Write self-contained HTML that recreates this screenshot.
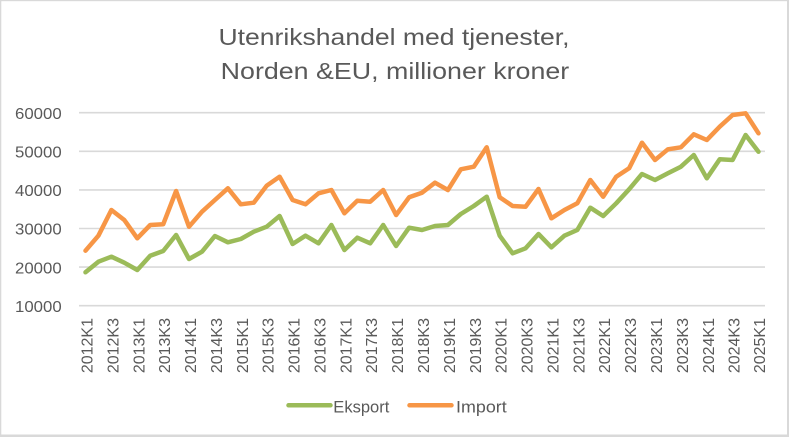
<!DOCTYPE html>
<html><head><meta charset="utf-8"><style>
html,body{margin:0;padding:0;background:#fff;}
svg{display:block;}
text{font-family:"Liberation Sans",sans-serif;fill:#595959;}
</style></head><body>
<svg width="789" height="437" viewBox="0 0 789 437" xmlns="http://www.w3.org/2000/svg">
<rect x="0" y="0" width="789" height="437" fill="#fff"/>
<!-- border -->
<rect x="0" y="0" width="789" height="1.2" fill="#d9d9d9"/>
<rect x="0" y="0" width="1.3" height="437" fill="#d9d9d9"/>
<rect x="787" y="0" width="2" height="437" fill="#d9d9d9"/>
<rect x="0" y="434.5" width="789" height="2.5" fill="#d9d9d9"/>
<!-- title -->
<text x="218.5" y="45" font-size="23" textLength="351" lengthAdjust="spacingAndGlyphs">Utenrikshandel med tjenester,</text>
<text x="220.7" y="79" font-size="23" textLength="348.5" lengthAdjust="spacingAndGlyphs">Norden &amp;EU, millioner kroner</text>
<!-- gridlines -->
<g stroke="#d9d9d9" stroke-width="1.6">
<line x1="79" y1="112.7" x2="765" y2="112.7"/>
<line x1="79" y1="151.3" x2="765" y2="151.3"/>
<line x1="79" y1="189.9" x2="765" y2="189.9"/>
<line x1="79" y1="228.5" x2="765" y2="228.5"/>
<line x1="79" y1="267.1" x2="765" y2="267.1"/>
<line x1="79" y1="305.7" x2="765" y2="305.7"/>
</g>
<!-- y labels -->
<g font-size="16">
<text x="15" y="118.9" textLength="46.7" lengthAdjust="spacingAndGlyphs">60000</text>
<text x="15" y="157.5" textLength="46.7" lengthAdjust="spacingAndGlyphs">50000</text>
<text x="15" y="196.1" textLength="46.7" lengthAdjust="spacingAndGlyphs">40000</text>
<text x="15" y="234.7" textLength="46.7" lengthAdjust="spacingAndGlyphs">30000</text>
<text x="15" y="273.3" textLength="46.7" lengthAdjust="spacingAndGlyphs">20000</text>
<text x="15" y="311.9" textLength="46.7" lengthAdjust="spacingAndGlyphs">10000</text>
</g>
<!-- series -->
<polyline fill="none" stroke="#f79646" stroke-width="4.5" stroke-linejoin="round" stroke-linecap="round" points="85.5,250.7 98.4,235.7 111.4,210 124.3,220 137.3,238.3 150.2,225 163.2,224.3 176.1,191 189.0,226.7 202.0,211.7 214.9,200 227.9,188.3 240.8,204.3 253.8,202.7 266.7,185.7 279.6,176.7 292.6,200 305.5,204.3 318.5,193.3 331.4,190 344.4,213.3 357.3,200.7 370.2,201.7 383.2,190 396.1,215 409.1,197.3 422.0,192.7 435.0,182.7 447.9,190 460.8,169.3 473.8,166.7 486.7,147.3 499.7,197.3 512.6,206 525.6,206.7 538.5,189 551.4,218.3 564.4,210 577.3,203.3 590.3,180 603.2,196.7 616.2,176.7 629.1,168.3 642.0,142.7 655.0,160 667.9,149.3 680.9,147.3 693.8,134.3 706.8,140 719.7,126.7 732.6,115 745.6,113.3 758.5,133.3"/>
<polyline fill="none" stroke="#9bbb59" stroke-width="4.5" stroke-linejoin="round" stroke-linecap="round" points="85.5,272.3 98.4,261.7 111.4,256.7 124.3,262.7 137.3,270 150.2,255.7 163.2,251 176.1,235 189.0,259 202.0,251.7 214.9,236 227.9,242.3 240.8,239 253.8,231.7 266.7,226.7 279.6,216 292.6,244 305.5,235.7 318.5,243.3 331.4,225 344.4,250 357.3,237.7 370.2,243.3 383.2,225 396.1,246 409.1,227.7 422.0,230 435.0,226 447.9,225 460.8,214 473.8,206 486.7,196.7 499.7,235.7 512.6,253.3 525.6,248.3 538.5,234 551.4,247.3 564.4,235.7 577.3,230 590.3,207.7 603.2,216 616.2,203.3 629.1,189.3 642.0,174 655.0,180 667.9,173.3 680.9,166.7 693.8,155 706.8,178.3 719.7,159.3 732.6,160 745.6,135 758.5,151.7"/>
<!-- x labels -->
<g font-size="16" text-anchor="end">
<text transform="translate(92.5,318) rotate(-90)">2012K1</text>
<text transform="translate(118.4,318) rotate(-90)">2012K3</text>
<text transform="translate(144.3,318) rotate(-90)">2013K1</text>
<text transform="translate(170.2,318) rotate(-90)">2013K3</text>
<text transform="translate(196.0,318) rotate(-90)">2014K1</text>
<text transform="translate(221.9,318) rotate(-90)">2014K3</text>
<text transform="translate(247.8,318) rotate(-90)">2015K1</text>
<text transform="translate(273.7,318) rotate(-90)">2015K3</text>
<text transform="translate(299.6,318) rotate(-90)">2016K1</text>
<text transform="translate(325.5,318) rotate(-90)">2016K3</text>
<text transform="translate(351.4,318) rotate(-90)">2017K1</text>
<text transform="translate(377.2,318) rotate(-90)">2017K3</text>
<text transform="translate(403.1,318) rotate(-90)">2018K1</text>
<text transform="translate(429.0,318) rotate(-90)">2018K3</text>
<text transform="translate(454.9,318) rotate(-90)">2019K1</text>
<text transform="translate(480.8,318) rotate(-90)">2019K3</text>
<text transform="translate(506.7,318) rotate(-90)">2020K1</text>
<text transform="translate(532.6,318) rotate(-90)">2020K3</text>
<text transform="translate(558.4,318) rotate(-90)">2021K1</text>
<text transform="translate(584.3,318) rotate(-90)">2021K3</text>
<text transform="translate(610.2,318) rotate(-90)">2022K1</text>
<text transform="translate(636.1,318) rotate(-90)">2022K3</text>
<text transform="translate(662.0,318) rotate(-90)">2023K1</text>
<text transform="translate(687.9,318) rotate(-90)">2023K3</text>
<text transform="translate(713.8,318) rotate(-90)">2024K1</text>
<text transform="translate(739.6,318) rotate(-90)">2024K3</text>
<text transform="translate(765.0,318) rotate(-90)">2025K1</text>
</g>
<!-- legend -->
<line x1="288.5" y1="405.3" x2="330.5" y2="405.3" stroke="#9bbb59" stroke-width="4.5" stroke-linecap="round"/>
<text x="333.3" y="412.3" font-size="17" textLength="56" lengthAdjust="spacingAndGlyphs">Eksport</text>
<line x1="409.5" y1="405.3" x2="451.5" y2="405.3" stroke="#f79646" stroke-width="4.5" stroke-linecap="round"/>
<text x="456" y="412.3" font-size="17" textLength="50.7" lengthAdjust="spacingAndGlyphs">Import</text>
</svg>
</body></html>
